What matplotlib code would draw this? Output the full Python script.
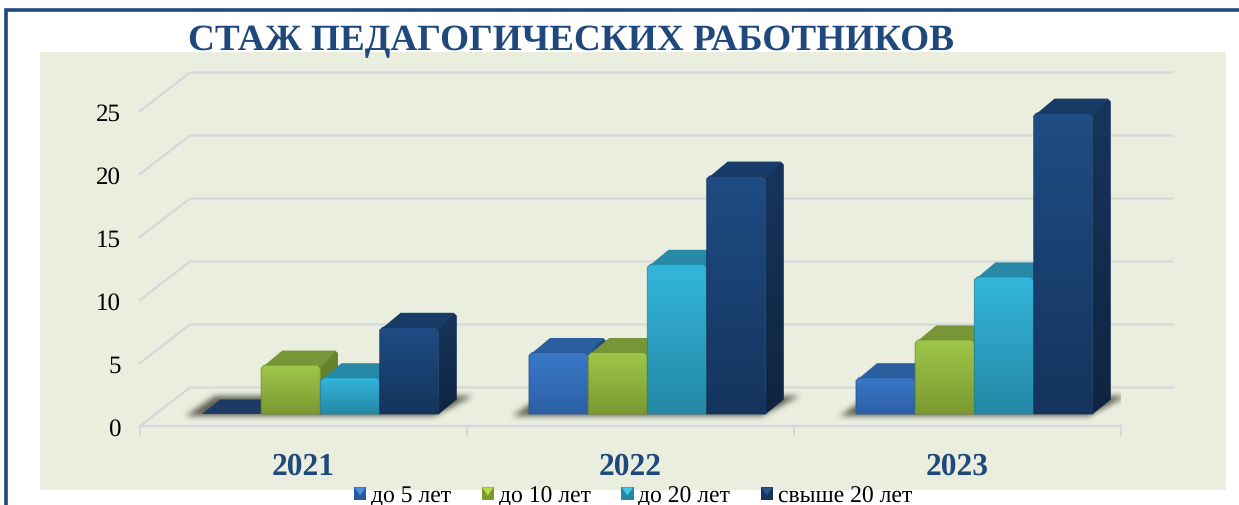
import numpy as np
import matplotlib
matplotlib.use('Agg')
import matplotlib.pyplot as plt
from matplotlib.colors import LinearSegmentedColormap
from matplotlib.legend_handler import HandlerBase
from matplotlib.lines import Line2D
from matplotlib.patches import Polygon, Rectangle

plt.rcParams['font.family'] = ['Liberation Serif', 'DejaVu Serif']
plt.rcParams['text.hinting'] = 'no_hinting'

# Chart data
title = 'СТАЖ ПЕДАГОГИЧЕСКИХ РАБОТНИКОВ'
years = ['2021', '2022', '2023']
series_names = ['до 5 лет', 'до 10 лет', 'до 20 лет', 'свыше 20 лет']
up_to_5 = [0, 5, 3]
up_to_10 = [4, 5, 6]
up_to_20 = [3, 12, 11]
over_20 = [7, 19, 24]
y_ticks = [0, 5, 10, 15, 20, 25]

# Bar colours per series
front_top = ['#3a78c8', '#9fc74a', '#33b6dc', '#1f4c84']
front_bottom = ['#2c60a6', '#7b9931', '#2488a6', '#14345d']
edge_color = ['#24538f', '#6f8c2b', '#207d98', '#12305a']
top_face = ['#2a5f9f', '#769638', '#2789a6', '#193b67']
side_top = ['#234a80', '#6a862c', '#20809b', '#17355c']
side_bottom = ['#1d3f6e', '#5c7526', '#1b6f87', '#0f2440']
legend_light = ['#4a90e2', '#b9d94f', '#44c8ea', '#2a5590']
legend_dark = ['#2b5a9c', '#7b9931', '#2488a6', '#16335a']
zero_color = '#1c3a63'
blue = '#1f497d'
grid_color = '#d5d8da'
panel_color = '#eaeedf'

W, H = 1239, 506
fig = plt.figure(figsize=(W / 100, H / 100), dpi=100, facecolor='white')

# Panel and outer frame
fig.add_artist(Rectangle((40 / W, 1 - 491 / H), 1186 / W, 438 / H, transform=fig.transFigure,
                         facecolor=panel_color, edgecolor='none', zorder=-1))
fig.add_artist(Line2D([6 / W, 6 / W, 1], [0, 1 - 11 / H, 1 - 11 / H], transform=fig.transFigure,
                      color=blue, lw=2.6, solid_joinstyle='miter', zorder=-1))
fig.text(571 / W, 1 - 50 / H, title, ha='center', va='baseline', color=blue,
         fontsize=26.8, fontweight='bold')

# Axes: x is the category index, y is the value, front floor edge is y = 0
px_y = 12.6
px_x = 327.0
ax_top = 60
ax = fig.add_axes([140 / W, 1 - 427 / H, 981 / W, (427 - ax_top) / H])
ax.patch.set_visible(False)
xlim = (-0.5, 2.5)
ylim = (0, (427 - ax_top) / px_y)


def dx(p):
    return p / px_x


def dy(p):
    return p / px_y


def gradient_poly(pts, c_top, c_bottom, z):
    # vertical gradient clipped to a polygon
    xs = [p[0] for p in pts]
    ys = [p[1] for p in pts]
    cmap = LinearSegmentedColormap.from_list('f', [c_top, c_bottom])
    im = ax.imshow(np.linspace(0, 1, 64).reshape(-1, 1), cmap=cmap, aspect='auto',
                   extent=(min(xs), max(xs), min(ys), max(ys)), origin='upper', zorder=z)
    im.set_clip_path(Polygon(pts, closed=True, transform=ax.transData))


def blur(a, n):
    # box blur along both directions, two passes
    kernel = np.ones(n) / n
    for _ in range(2):
        a = np.apply_along_axis(lambda r: np.convolve(r, kernel, mode='same'), 0, a)
        a = np.apply_along_axis(lambda r: np.convolve(r, kernel, mode='same'), 1, a)
    return a


# Walls: slanted line plus back line for each gridline
for v in y_ticks:
    ax.plot([xlim[0], xlim[0] + dx(50), xlim[1] + dx(51)], [v, v + dy(38.5), v + dy(38.5)],
            color=grid_color, lw=1.6, clip_on=False, zorder=1, solid_joinstyle='round')

base = dy(12)
bar_w = dx(59.2)
depth_x = dx(18)
depth_y = dy(14.5)
top_drop = dy(1.5)
group_start = dx(-101.5)

# Soft shadows under each group, pixel-sized mask blurred and laid on the floor
shadow_w = int(round((4 * bar_w) * px_x)) + 100
rows, cols = np.mgrid[0:40, 0:shadow_w]
mask = ((rows >= 10) & (rows <= 29)
        & (cols >= 24 + (rows - 10) * 1.45)
        & (cols <= shadow_w - 64 + (rows - 10) * 1.9)).astype(float)
shadow = np.zeros((40, shadow_w, 4))
shadow[..., :3] = (0.25, 0.25, 0.2)
shadow[..., 3] = blur(mask, 7) * 0.8
for i in range(len(years)):
    x0 = i + group_start - dx(40)
    ax.imshow(shadow, aspect='auto', origin='lower', zorder=2,
              extent=(x0, x0 + dx(shadow_w), 0, dy(40)))

# Bars, left to right so that each front covers the side of the bar before it
series = [up_to_5, up_to_10, up_to_20, over_20]
for i in range(len(years)):
    for j, vals in enumerate(series):
        v = vals[i]
        x0 = i + group_start + j * bar_w
        x1 = x0 + bar_w
        z = 3 + j * 0.1
        if v == 0:
            ax.add_patch(Polygon([(x0, base), (x1, base), (x1 + depth_x, base + depth_y),
                                  (x0 + depth_x, base + depth_y)], closed=True,
                                 facecolor=zero_color, edgecolor='none', zorder=z))
            continue
        y1 = base + v - top_drop
        cx = dx(3)
        cy = dy(3)
        side = [(x1, base), (x1 + depth_x, base + depth_y), (x1 + depth_x, y1 + depth_y - cy),
                (x1 + depth_x - cx, y1 + depth_y), (x1, y1)]
        gradient_poly(side, side_top[j], side_bottom[j], z)
        ax.add_patch(Polygon([(x0, y1 - cy), (x1, y1 - cy), (x1 + depth_x - cx, y1 + depth_y),
                              (x0 + depth_x + cx, y1 + depth_y)], closed=True,
                             facecolor=top_face[j], edgecolor='none', zorder=z + 0.01))
        front = [(x0, base), (x1, base), (x1, y1 - cy), (x1 - cx, y1), (x0 + cx, y1), (x0, y1 - cy)]
        gradient_poly(front, front_top[j], front_bottom[j], z + 0.02)
        ax.add_patch(Polygon(front, closed=True, facecolor='none', edgecolor=edge_color[j],
                             lw=0.8, alpha=0.7, zorder=z + 0.03))

ax.set_xlim(*xlim)
ax.set_ylim(*ylim)

# Axes furniture
for name in ['top', 'left', 'right']:
    ax.spines[name].set_visible(False)
ax.spines['bottom'].set_color(grid_color)
ax.spines['bottom'].set_linewidth(1.6)
ax.set_xticks([-0.5, 0.5, 1.5, 2.5])
ax.set_xticklabels([])
ax.tick_params(axis='x', which='major', length=7, width=1.4, color=grid_color)
ax.set_xticks(range(len(years)), minor=True)
ax.set_xticklabels(years, minor=True, fontsize=22.7, fontweight='bold', color=blue)
ax.tick_params(axis='x', which='minor', length=0, pad=18.5)
ax.set_yticks(y_ticks)
ax.set_yticklabels(y_ticks, fontsize=18, color='black')
ax.tick_params(axis='y', length=0, pad=14)


# Legend markers: dark square with a lighter wedge on top
class BevelHandler(HandlerBase):
    def create_artists(self, legend, orig_handle, xdescent, ydescent, width, height, fontsize, trans):
        n = int(orig_handle.get_gid())
        x, y = -xdescent, -ydescent - 0.05 * height
        rect = Rectangle((x, y), width, height, facecolor=legend_dark[n], edgecolor='none', transform=trans)
        tri = Polygon([(x + 0.05 * width, y + height * 0.95), (x + 0.95 * width, y + height * 0.95),
                       (x + 0.5 * width, y + 0.35 * height)], closed=True,
                      facecolor=legend_light[n], edgecolor='none', transform=trans)
        return [rect, tri]


handles = [Rectangle((0, 0), 1, 1, gid=str(n)) for n in range(len(series_names))]
fig.legend(handles, series_names, ncols=4, loc='center', bbox_to_anchor=(633 / W, 1 - 496.5 / H),
           frameon=False, fontsize=17, handlelength=0.52, handleheight=0.52,
           handletextpad=0.2, columnspacing=1.3, borderpad=0, borderaxespad=0,
           handler_map={Rectangle: BevelHandler()})

fig.savefig('out.png', dpi=100)
